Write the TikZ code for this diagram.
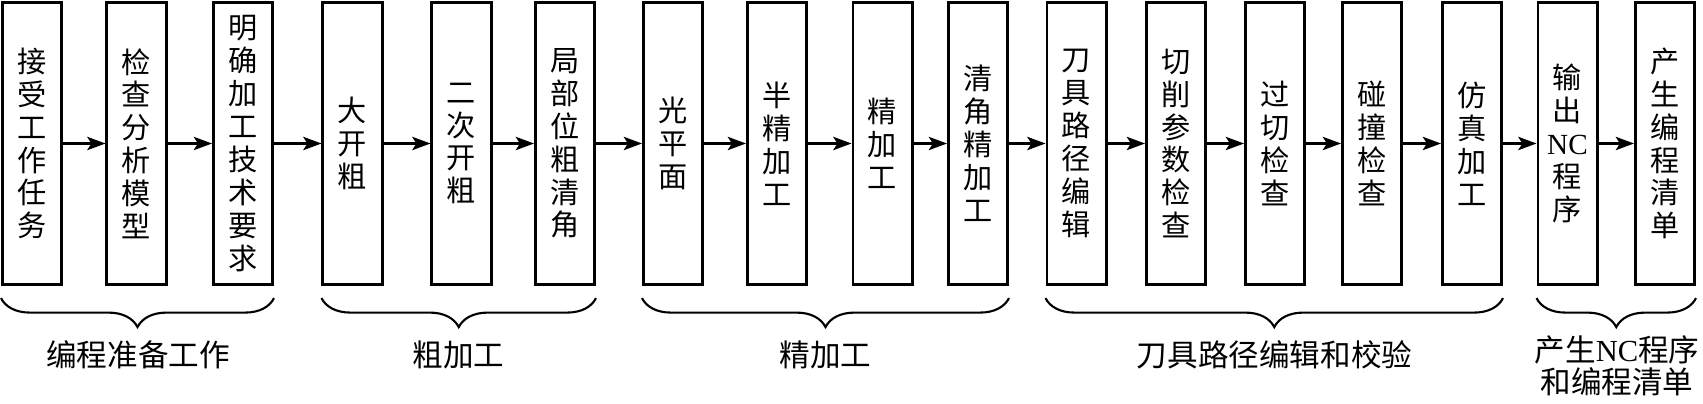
\documentclass[tikz,border=0pt]{standalone}
\usepackage{fontspec}
\setmainfont{Liberation Serif}
\newfontfamily\cjk{Noto Sans CJK SC}
\newfontfamily\latf{Liberation Serif}
\usetikzlibrary{arrows.meta,decorations.pathreplacing}
\begin{document}
\begin{tikzpicture}[x=0.01cm,y=-0.01cm,
  box/.style={draw, line width=0.85pt, minimum width=0.59cm, minimum height=2.82cm,
    inner sep=0pt, align=center, font=\cjk\fontsize{8.3}{9.35}\selectfont},
  arr/.style={-{Stealth[length=5.2pt,width=3.8pt,inset=1.2pt]}, line width=0.6pt},
  brc/.style={decorate, decoration={brace, mirror, amplitude=0.29cm}, line width=0.6pt},
  lbl/.style={font=\cjk\fontsize{8.7}{9.1}\selectfont, align=center, inner sep=0pt}]
\useasboundingbox (0,0) rectangle (1703,403);
\node[box] (b1)  at (32,143.5)   {接\\受\\工\\作\\任\\务};
\node[box] (b2)  at (136.5,143.5) {检\\查\\分\\析\\模\\型};
\node[box] (b3)  at (243,143.5)  {明\\确\\加\\工\\技\\术\\要\\求};
\node[box] (b4)  at (352.5,143.5) {大\\开\\粗};
\node[box] (b5)  at (461.5,143.5) {二\\次\\开\\粗};
\node[box] (b6)  at (565,143.5)  {局\\部\\位\\粗\\清\\角};
\node[box] (b7)  at (673,143.5)  {光\\平\\面};
\node[box] (b8)  at (777,143.5)  {半\\精\\加\\工};
\node[box] (b9)  at (882.5,143.5) {精\\加\\工};
\node[box] (b10) at (978,143.5)  {清\\角\\精\\加\\工};
\node[box] (b11) at (1076.5,143.5) {刀\\具\\路\\径\\编\\辑};
\node[box] (b12) at (1176,143.5) {切\\削\\参\\数\\检\\查};
\node[box] (b13) at (1275,143.5) {过\\切\\检\\查};
\node[box] (b14) at (1372,143.5) {碰\\撞\\检\\查};
\node[box] (b15) at (1472,143.5) {仿\\真\\加\\工};
\node[box] (b16) at (1567.5,143.5) {输\\出\\{\latf NC}\\程\\序};
\node[box] (b17) at (1665,143.5) {产\\生\\编\\程\\清\\单};
\foreach \a/\b in {b1/b2,b2/b3,b3/b4,b4/b5,b5/b6,b6/b7,b7/b8,b8/b9,b9/b10,b10/b11,b11/b12,b12/b13,b13/b14,b14/b15,b15/b16,b16/b17}
  \draw[arr] (\a.east) -- (\b.west);
\draw[brc] ([yshift=-0.12cm]b1.south west) -- ([yshift=-0.12cm]b3.south east);
\draw[brc] ([yshift=-0.12cm]b4.south west) -- ([yshift=-0.12cm]b6.south east);
\draw[brc] ([yshift=-0.12cm]b7.south west) -- ([yshift=-0.12cm]b10.south east);
\draw[brc] ([yshift=-0.12cm]b11.south west) -- ([yshift=-0.12cm]b15.south east);
\draw[brc] ([yshift=-0.12cm]b16.south west) -- ([yshift=-0.12cm]b17.south east);
\node[lbl] (l1) at (138,355) {编程准备工作};
\node[lbl] (l2) at (458.5,355) {粗加工};
\node[lbl] (l3) at (825.5,355) {精加工};
\node[lbl] (l4) at (1274.5,355) {刀具路径编辑和校验};
\node[lbl] (l5) at (1617,366) {产生{\latf NC}程序\\和编程清单};
\end{tikzpicture}
\end{document}
